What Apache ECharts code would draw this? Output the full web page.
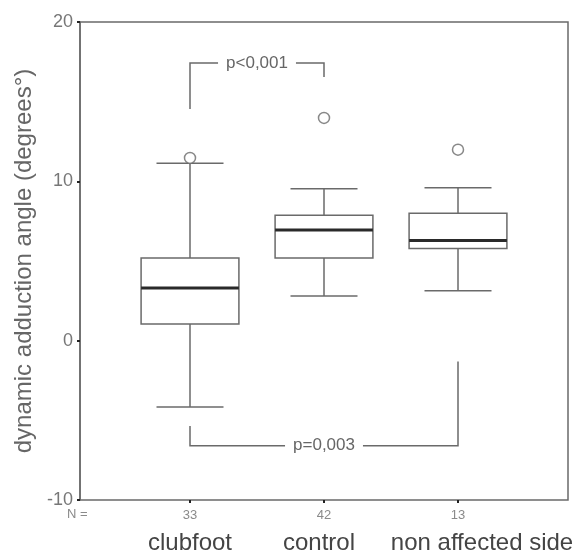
<!DOCTYPE html>
<html><head><meta charset="utf-8">
<script src="https://cdn.jsdelivr.net/npm/echarts@6/dist/echarts.min.js"></script>
<style>html,body{margin:0;padding:0;background:#fff}#c{width:578px;height:556px}</style>
</head><body><div id="c"></div>
<script>
const categories = ['clubfoot', 'control', 'non affected side'];
const nCounts = ['33', '42', '13'];
const whiskerLow = [-4.16, 2.81, 3.14];
const q1 = [1.05, 5.19, 5.78];
const median = [3.31, 6.95, 6.28];
const q3 = [5.19, 7.87, 7.99];
const whiskerHigh = [11.13, 9.54, 9.60];
const outliers = [[0, 11.47], [1, 13.98], [2, 11.99]];
const yTicks = [-10, 0, 10, 20];
const yTitle = 'dynamic adduction angle (degrees°)';
// bracket: [fromCategory, toCategory, startValueAtFrom, barValue, endValueAtTo]
const brackets = [[0, 1, 14.54, 17.43, 16.55], [0, 2, -5.36, -6.59, -1.30]];
const bracketLabels = ['p<0,001', 'p=0,003'];

const FONT = '"Liberation Sans", Arial, sans-serif';
const LINE = '#6a6a6a';
const yMin = yTicks[0], yMax = yTicks[yTicks.length - 1], yInt = yTicks[1] - yTicks[0];

const chart = echarts.init(document.getElementById('c'), null, {renderer: 'canvas'});
chart.setOption({
  animation: false,
  backgroundColor: '#fff',
  textStyle: {fontFamily: FONT},
  grid: [
    {left: 80, top: 22, width: 488, height: 478, show: true, borderColor: LINE, borderWidth: 1.5, backgroundColor: 'transparent'},
    {left: 123, top: 22, width: 402, height: 478}
  ],
  graphic: [{type: 'text', left: 67, top: 508, style: {text: 'N =', fontSize: 13, fill: '#8a8a8a', fontFamily: FONT}}],
  xAxis: [
    {gridIndex: 0, type: 'value', min: 0, max: 1, show: false},
    {gridIndex: 1, type: 'category', data: categories, position: 'bottom',
     axisLine: {show: false, onZero: false},
     axisTick: {show: true, alignWithLabel: true, length: 3, lineStyle: {color: '#222', width: 2}},
     axisLabel: {margin: 6, interval: 0,
       formatter: (v, i) => `{n|${nCounts[i]}}\n{c${i}|${v}}`,
       rich: {
         n: {fontSize: 13, lineHeight: 18, color: '#8a8a8a', fontFamily: FONT},
         c0: {fontSize: 24, lineHeight: 38, color: '#444', fontFamily: FONT},
         c1: {fontSize: 24, lineHeight: 38, color: '#444', fontFamily: FONT, padding: [0, 10, 0, 0]},
         c2: {fontSize: 24, lineHeight: 38, color: '#444', fontFamily: FONT, padding: [0, 0, 0, 48]}
       }},
     splitLine: {show: false}}
  ],
  yAxis: [
    {gridIndex: 0, type: 'value', min: yMin, max: yMax, interval: yInt,
     name: yTitle, nameLocation: 'middle', nameGap: 39,
     nameTextStyle: {fontSize: 24, color: '#666', fontFamily: FONT},
     axisLine: {show: true, lineStyle: {color: LINE, width: 1.5}},
     axisTick: {show: true, length: 3, lineStyle: {color: '#222', width: 2}},
     axisLabel: {fontSize: 18, color: '#777', margin: 7, fontFamily: FONT},
     splitLine: {show: false}},
    {gridIndex: 1, type: 'value', min: yMin, max: yMax, interval: yInt, show: false}
  ],
  series: [
    {
      type: 'custom', xAxisIndex: 1, yAxisIndex: 1,
      data: categories.map((c, i) => [i, whiskerLow[i], q1[i], median[i], q3[i], whiskerHigh[i]]),
      renderItem: function (params, api) {
        const i = api.value(0);
        const p = k => api.coord([i, api.value(k)]);
        const lo = p(1), a = p(2), m = p(3), b = p(4), hi = p(5);
        const bw = api.size([1, 0])[0];
        const hb = bw * 0.365, hc = bw * 0.25;
        const x = lo[0];
        const ls = {stroke: LINE, lineWidth: 1.5, fill: null};
        return {type: 'group', children: [
          {type: 'line', shape: {x1: x, y1: hi[1], x2: x, y2: b[1]}, style: ls},
          {type: 'line', shape: {x1: x - hc, y1: hi[1], x2: x + hc, y2: hi[1]}, style: ls},
          {type: 'line', shape: {x1: x, y1: a[1], x2: x, y2: lo[1]}, style: ls},
          {type: 'line', shape: {x1: x - hc, y1: lo[1], x2: x + hc, y2: lo[1]}, style: ls},
          {type: 'rect', shape: {x: x - hb, y: b[1], width: 2 * hb, height: a[1] - b[1]}, style: {stroke: LINE, lineWidth: 1.5, fill: '#fff'}},
          {type: 'line', shape: {x1: x - hb, y1: m[1], x2: x + hb, y2: m[1]}, style: {stroke: '#2a2a2a', lineWidth: 3}}
        ]};
      }
    },
    {
      type: 'scatter', xAxisIndex: 1, yAxisIndex: 1, data: outliers,
      symbol: 'circle', symbolSize: 11,
      itemStyle: {color: '#fff', borderColor: LINE, borderWidth: 1.5}
    },
    {
      type: 'custom', xAxisIndex: 1, yAxisIndex: 1, data: brackets,
      renderItem: function (params, api) {
        const f = api.coord([api.value(0), api.value(2)]);
        const b1 = api.coord([api.value(0), api.value(3)]);
        const b2 = api.coord([api.value(1), api.value(3)]);
        const t = api.coord([api.value(1), api.value(4)]);
        return {type: 'group', children: [
          {type: 'polyline', shape: {points: [f, b1, b2, t]}, style: {stroke: LINE, lineWidth: 1.5, fill: null}},
          {type: 'text', x: (b1[0] + b2[0]) / 2, y: b1[1],
           style: {text: bracketLabels[params.dataIndex], fontSize: 17, fontFamily: FONT, fill: '#666',
                   align: 'center', verticalAlign: 'middle', backgroundColor: '#fff', padding: [2, 8]}}
        ]};
      }
    }
  ]
});
</script></body></html>
